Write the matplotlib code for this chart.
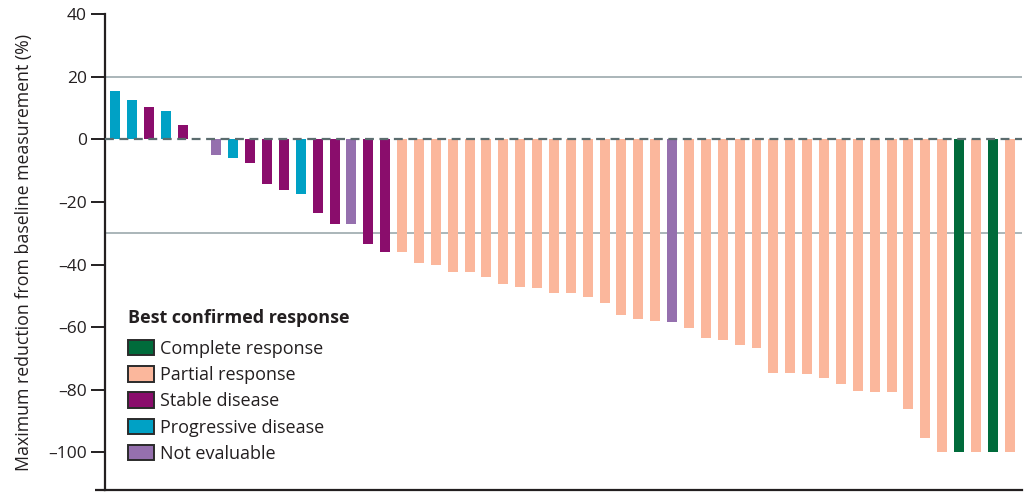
import matplotlib
matplotlib.use("Agg")
import matplotlib.pyplot as plt
from matplotlib.patches import Patch

plt.rcParams['font.family'] = ['Open Sans', 'DejaVu Sans']

# Best change in target lesion size per patient (%), ordered as plotted
values = [15.4, 12.5, 10.4, 8.9, 4.7, 0.0,
          -5.0, -6.0, -7.5, -14.3, -16.1, -17.5, -23.5, -27.1, -27.1,
          -33.5, -35.9, -35.9, -39.5, -40.3, -42.5, -42.5, -44.0, -46.1,
          -47.2, -47.5, -49.0, -49.0, -50.4, -52.3, -56.1, -57.3, -58.1,
          -58.3, -60.2, -63.5, -64.0, -65.7, -66.6, -74.5, -74.5, -74.9,
          -76.3, -78.1, -80.3, -80.7, -80.7, -86.2, -95.5, -100.0, -100.0,
          -100.0, -100.0, -100.0]

# Best confirmed response for each patient
responses = ['PD', 'PD', 'SD', 'PD', 'SD', 'SD',
             'NE', 'PD', 'SD', 'SD', 'SD', 'PD', 'SD', 'SD', 'NE',
             'SD', 'SD', 'PR', 'PR', 'PR', 'PR', 'PR', 'PR', 'PR',
             'PR', 'PR', 'PR', 'PR', 'PR', 'PR', 'PR', 'PR', 'PR',
             'NE', 'PR', 'PR', 'PR', 'PR', 'PR', 'PR', 'PR', 'PR',
             'PR', 'PR', 'PR', 'PR', 'PR', 'PR', 'PR', 'PR', 'CR',
             'PR', 'CR', 'PR']

legend_keys = ['CR', 'PR', 'SD', 'PD', 'NE']
legend_labels = ['Complete response', 'Partial response', 'Stable disease',
                 'Progressive disease', 'Not evaluable']
colors = {'CR': '#006b3b', 'PR': '#fbb79c', 'SD': '#8a0d6c',
          'PD': '#00a1c5', 'NE': '#9570ae'}

y_ticks = [40, 20, 0, -20, -40, -60, -80, -100]
threshold_lines = [20, -30]

text_color = '#231f20'

fig = plt.figure(figsize=(10.28, 4.97), dpi=100)
W, H = 1028, 497
ax = fig.add_axes([105 / W, 7 / H, (1022 - 105) / W, (490 - 7 - 7) / H])

x = list(range(len(values)))
bar_colors = [colors[r] for r in responses]
ax.bar(x, values, width=0.59, color=bar_colors, linewidth=0, zorder=3)

for yv in threshold_lines:
    ax.axhline(yv, color='#aab5b9', linewidth=1.4, zorder=1)
ax.axhline(0, color='#5b6c6e', linewidth=1.6, linestyle=(0, (4, 2.5)), zorder=4)

ax.set_xlim(-0.6, 53.73)
ax.set_ylim(-112, 40)
ax.set_xticks([])
ax.set_yticks(y_ticks)
ax.set_yticklabels([str(t).replace('-', '\u2013') for t in y_ticks])
ax.tick_params(axis='y', length=10, width=1.4, color=text_color,
               labelsize=12.5, labelcolor=text_color, pad=3)

for side in ['top', 'right']:
    ax.spines[side].set_visible(False)
for side in ['left', 'bottom']:
    ax.spines[side].set_color(text_color)
    ax.spines[side].set_linewidth(1.6)

# extend the baseline slightly to the left of the y axis
ax.plot([-10 / 917, 0], [0, 0], transform=ax.transAxes, color=text_color,
        linewidth=1.6, clip_on=False, solid_capstyle='butt')

ax.set_ylabel('Maximum reduction from baseline measurement (%)',
              fontsize=12.8, color=text_color, labelpad=11)

handles = [Patch(facecolor=colors[k], edgecolor='#2b2b2b', linewidth=1.4)
           for k in legend_keys]
leg = ax.legend(handles, legend_labels, title='Best confirmed response',
                loc='upper left', bbox_to_anchor=(0.025, 0.38),
                frameon=False, fontsize=13, title_fontsize=13,
                handlelength=1.45, handleheight=0.95, handletextpad=0.35,
                labelspacing=0.46, borderpad=0, borderaxespad=0,
                alignment='left', labelcolor=text_color)
leg.get_title().set_fontweight('bold')
leg.get_title().set_color(text_color)
leg._legend_box.sep = 9

fig.savefig('out.png', dpi=100)
